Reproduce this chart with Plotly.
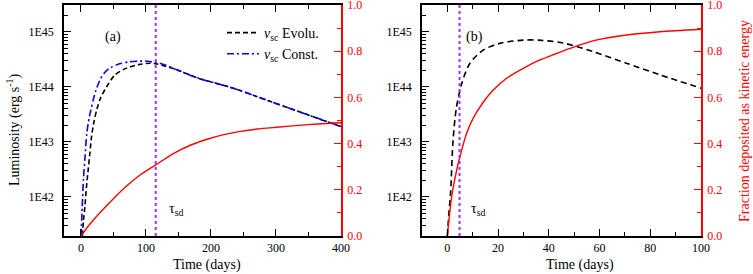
import plotly.graph_objects as go

W, H = 753, 274

# ---------------- data ----------------
# Panel (a)
t_const_a = [0.3, 2, 4, 6.1, 9, 12.8, 15.3, 18.9, 23, 29.5, 36, 44.5, 59.5, 75, 90.5, 102, 115, 130, 147.5, 180, 233, 285, 337, 400]
L_const_a = [1.95e41, 6.6e41, 2.2e42, 4.9e42, 1.4e43, 2.8e43, 3.8e43, 5.8e43, 8.6e43, 1.35e44, 1.8e44, 2.2e44,
             2.63e44, 2.87e44, 2.95e44, 2.93e44, 2.82e44, 2.5e44, 2.05e44, 1.45e44, 9.6e43, 5.8e43, 3.5e43, 1.9e43]

t_evol_a = [2.3, 4, 6.1, 8.5, 11.2, 13.8, 16.4, 20, 24.5, 30, 36.9, 52.3, 70.2, 90.5, 106.5, 115, 130, 147.5, 180, 233, 285, 337, 400]
L_evol_a = [1.95e41, 3.8e41, 6.6e41, 1.5e42, 3.1e42, 6.3e42, 1.26e43, 2.3e43, 3.9e43, 6.2e43, 8.9e43, 1.65e44,
            2.2e44, 2.57e44, 2.7e44, 2.65e44, 2.38e44, 2.05e44, 1.45e44, 9.6e43, 5.8e43, 3.5e43, 1.9e43]

t_frac_a = [0, 14.9, 40.5, 66, 92, 114, 143, 169, 194, 220, 246, 271, 297, 335, 365, 400]
f_frac_a = [0, 0.055, 0.134, 0.206, 0.266, 0.306, 0.358, 0.394, 0.419, 0.439, 0.453, 0.463, 0.47, 0.479, 0.485, 0.49]

tau_sd_a = 115

# Panel (b)
t_evol_b = [0, 0.6, 1.3, 2.2, 3.5, 5.7, 8.9, 14.2, 20.7, 29.9, 36, 45.6, 57.4, 70.6, 83.8, 100]
L_evol_b = [1.95e41, 5.0e41, 1.26e42, 1.0e43, 4.0e43, 1.17e44, 2.7e44, 4.7e44, 6.2e44, 7.1e44, 7.1e44,
            6.3e44, 4.4e44, 2.7e44, 1.66e44, 9.5e43]

t_frac_b = [0, 1.7, 3.7, 5.3, 7.6, 10.2, 14.2, 18.1, 23.4, 29.9, 36.5, 43, 48.3, 57.4, 70.6, 83.8, 100]
f_frac_b = [0, 0.17, 0.286, 0.358, 0.445, 0.51, 0.58, 0.632, 0.683, 0.726, 0.762, 0.79, 0.812, 0.845, 0.87, 0.884, 0.895]

tau_sd_b = 4.8

# axis ticks
lum_tickvals = [1e42, 1e43, 1e44, 1e45]
lum_ticktext = ["1E42", "1E43", "1E44", "1E45"]
lum_minor = [float(m) * 10.0 ** e for e in range(41, 46) for m in range(2, 10)]
frac_tickvals = [0.0, 0.2, 0.4, 0.6, 0.8, 1.0]
frac_ticktext = ["0.0", "0.2", "0.4", "0.6", "0.8", "1.0"]
frac_minor = [0.1, 0.3, 0.5, 0.7, 0.9]

# ---------------- layout helpers ----------------
def px(x):
    return x / W

def py(y):
    return 1 - y / H

FONT = "Liberation Serif, Times New Roman, DejaVu Serif, serif"
RED = "#ff0000"
VIOLET = "#9b30ff"
TICK_SIZE = 12
TXT_SIZE = 14

dom_y = [py(236), py(5)]
dom_a = [px(64), px(341)]
dom_b = [px(422), px(701)]

fig = go.Figure()

fig.add_trace(go.Scatter(x=t_evol_a, y=L_evol_a, mode="lines",
                         line=dict(color="black", width=1.6, dash="5px,3px", shape="spline", smoothing=0.8),
                         name="<i>ν</i><sub>sc</sub> Evolu.", xaxis="x", yaxis="y"))
fig.add_trace(go.Scatter(x=t_const_a, y=L_const_a, mode="lines",
                         line=dict(color="#0000ff", width=1.6, dash="7px,3px,2px,3px", shape="spline", smoothing=0.8),
                         name="<i>ν</i><sub>sc</sub> Const.", xaxis="x", yaxis="y"))
fig.add_trace(go.Scatter(x=t_frac_a, y=f_frac_a, mode="lines",
                         line=dict(color=RED, width=1.4, shape="spline", smoothing=0.8),
                         showlegend=False, xaxis="x", yaxis="y2"))

fig.add_trace(go.Scatter(x=t_evol_b, y=L_evol_b, mode="lines",
                         line=dict(color="black", width=1.6, dash="6px,4px", shape="spline", smoothing=0.8),
                         showlegend=False, xaxis="x2", yaxis="y3"))
fig.add_trace(go.Scatter(x=t_frac_b, y=f_frac_b, mode="lines",
                         line=dict(color=RED, width=1.4, shape="spline", smoothing=0.8),
                         showlegend=False, xaxis="x2", yaxis="y4"))

common_x = dict(showgrid=False, zeroline=False, showline=True, linecolor="black", linewidth=1.5,
                ticks="inside", ticklen=7, tickwidth=1.3, tickcolor="black", mirror="ticks",
                tickfont=dict(family=FONT, size=TICK_SIZE, color="black"), automargin=False,
                ticklabeloverflow="allow")
common_ylog = dict(type="log", range=[41.29, 45.49], domain=dom_y, showgrid=False, zeroline=False,
                   showline=True, linecolor="black", linewidth=1.5, ticks="inside", ticklen=7, tickwidth=1.3,
                   tickcolor="black", tickmode="array", tickvals=lum_tickvals, ticktext=lum_ticktext,
                   minor=dict(ticks="inside", ticklen=4, tickwidth=1, tickcolor="black", tickmode="array", tickvals=lum_minor),
                   tickfont=dict(family=FONT, size=TICK_SIZE, color="black"), automargin=False,
                   ticklabeloverflow="allow", ticklabelstandoff=6)
common_yfrac = dict(range=[0, 1], side="right", showgrid=False, zeroline=False, showline=True, linecolor=RED,
                    linewidth=1.5, ticks="inside", ticklen=7, tickwidth=1.3, tickcolor=RED,
                    tickmode="array", tickvals=frac_tickvals, ticktext=frac_ticktext,
                    minor=dict(ticks="inside", ticklen=4, tickwidth=1, tickcolor=RED, tickmode="array", tickvals=frac_minor),
                    tickfont=dict(family=FONT, size=TICK_SIZE, color=RED), automargin=False,
                    ticklabeloverflow="allow", ticklabelstandoff=2)

fig.update_layout(
    width=W, height=H, margin=dict(l=0, r=0, t=0, b=0),
    paper_bgcolor="white", plot_bgcolor="white", template="none",
    font=dict(family=FONT),
    xaxis=dict(domain=dom_a, range=[-26, 400], anchor="y", dtick=100, tick0=0,
               minor=dict(ticks="inside", ticklen=4, tickwidth=1, tickcolor="black", dtick=50, tick0=0), **common_x),
    yaxis=dict(anchor="x", **common_ylog),
    yaxis2=dict(anchor="x", overlaying="y", **common_yfrac),
    xaxis2=dict(domain=dom_b, range=[-10, 100], anchor="y3", dtick=20, tick0=0,
                minor=dict(ticks="inside", ticklen=4, tickwidth=1, tickcolor="black", dtick=10, tick0=0), **common_x),
    yaxis3=dict(anchor="x2", **common_ylog),
    yaxis4=dict(anchor="x2", overlaying="y3", **common_yfrac),
    showlegend=True,
    legend=dict(x=px(222), y=py(17), xanchor="left", yanchor="top", bgcolor="rgba(0,0,0,0)",
                font=dict(family=FONT, size=TXT_SIZE, color="black"), itemwidth=32, tracegroupgap=0),
    shapes=[
        dict(type="line", xref="x", yref="y domain", x0=tau_sd_a, x1=tau_sd_a, y0=0, y1=1,
             line=dict(color=VIOLET, width=2, dash="dot")),
        dict(type="line", xref="x2", yref="y3 domain", x0=tau_sd_b, x1=tau_sd_b, y0=0, y1=1,
             line=dict(color=VIOLET, width=2, dash="dot")),
    ],
)

annots = [
    dict(x=px(113), y=py(37), text="(a)", font=dict(family=FONT, size=TXT_SIZE, color="black")),
    dict(x=px(474), y=py(37), text="(b)", font=dict(family=FONT, size=TXT_SIZE, color="black")),
    dict(x=px(176), y=py(209), text="τ<sub>sd</sub>", font=dict(family=FONT, size=TXT_SIZE, color="black")),
    dict(x=px(478), y=py(209), text="τ<sub>sd</sub>", font=dict(family=FONT, size=TXT_SIZE, color="black")),
    dict(x=px(207), y=py(265), text="Time (days)", font=dict(family=FONT, size=TXT_SIZE, color="black")),
    dict(x=px(580), y=py(265), text="Time (days)", font=dict(family=FONT, size=TXT_SIZE, color="black")),
    dict(x=px(13), y=py(130), text="Luminosity (erg s<sup>-1</sup>)", textangle=-90,
         font=dict(family=FONT, size=TXT_SIZE, color="black")),
    dict(x=px(744), y=py(121), text="Fraction deposited as kinetic energy", textangle=-90,
         font=dict(family=FONT, size=TXT_SIZE, color=RED)),
]
for a in annots:
    a.update(xref="paper", yref="paper", showarrow=False, xanchor="center", yanchor="middle")
fig.update_layout(annotations=annots)

fig.write_html("out.html", config={"displayModeBar": False},
               post_script="document.body.style.margin='0px';document.body.style.padding='0px';")
